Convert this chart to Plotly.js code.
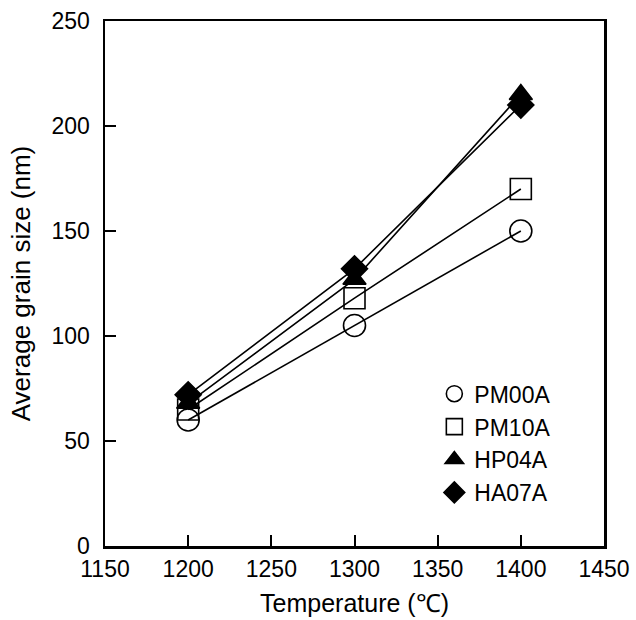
<!DOCTYPE html>
<html>
<head>
<meta charset="utf-8">
<script src="https://cdn.plot.ly/plotly-3.0.1.min.js"></script>
<style>html,body{margin:0;padding:0;background:#fff;}#chart{width:636px;height:620px;}</style>
</head>
<body>
<div id="chart"></div>
<script>
const temperature = [1200, 1300, 1400];
const seriesNames = ["PM00A", "PM10A", "HP04A", "HA07A"];
const pm00a = [60, 105, 150];
const pm10a = [65, 118, 170];
const hp04a = [68, 127, 215];
const ha07a = [72, 132, 210];
const xTicks = [1150, 1200, 1250, 1300, 1350, 1400, 1450];
const yTicks = [0, 50, 100, 150, 200, 250];

const seriesValues = [pm00a, pm10a, hp04a, ha07a];
const symbols = ["circle-open", "square-open", "triangle-up", "diamond"];
const sizes = [22, 21, 20, 20];

const traces = [];
seriesValues.forEach((v, i) => {
  traces.push({
    x: temperature, y: v, mode: "lines", type: "scatter",
    line: {color: "#000", width: 1.6}, showlegend: false, hoverinfo: "skip"
  });
});
seriesValues.forEach((v, i) => {
  traces.push({
    x: temperature, y: v, mode: "markers", type: "scatter", name: seriesNames[i],
    marker: {symbol: symbols[i], size: sizes[i], color: "#000", line: {color: "#000", width: 1.6}}
  });
});

const fontFam = "Liberation Sans, Arial, sans-serif";
const layout = {
  width: 636, height: 620,
  margin: {l: 105, r: 32, t: 21, b: 74},
  paper_bgcolor: "#fff", plot_bgcolor: "#fff",
  font: {family: fontFam, color: "#000", size: 23},
  xaxis: {
    range: [1150, 1450], tickvals: xTicks, ticktext: xTicks.map(String),
    ticks: "inside", ticklen: 11, tickwidth: 2, tickcolor: "#000",
    showline: true, linewidth: 2.5, linecolor: "#000", mirror: true,
    showgrid: false, zeroline: false,
    tickfont: {size: 23, family: fontFam},
    ticklabelstandoff: 1,
    title: {text: "Temperature (℃)", font: {size: 25, family: fontFam}, standoff: 14}
  },
  yaxis: {
    range: [0, 250], tickvals: yTicks, ticktext: yTicks.map(String),
    ticks: "inside", ticklen: 11, tickwidth: 2, tickcolor: "#000",
    showline: true, linewidth: 2.5, linecolor: "#000", mirror: true,
    showgrid: false, zeroline: false,
    tickfont: {size: 23, family: fontFam},
    ticklabelstandoff: 8,
    title: {text: "Average grain size (nm)", font: {size: 26, family: fontFam}, standoff: 14}
  },
  legend: {
    x: 0.66, y: 0.331, xanchor: "left", yanchor: "top",
    bgcolor: "rgba(255,255,255,0)", borderwidth: 0,
    font: {size: 23, family: fontFam}, tracegroupgap: 0
  },
  showlegend: true
};

Plotly.newPlot("chart", traces, layout, {staticPlot: true, displayModeBar: false});
</script>
</body>
</html>
